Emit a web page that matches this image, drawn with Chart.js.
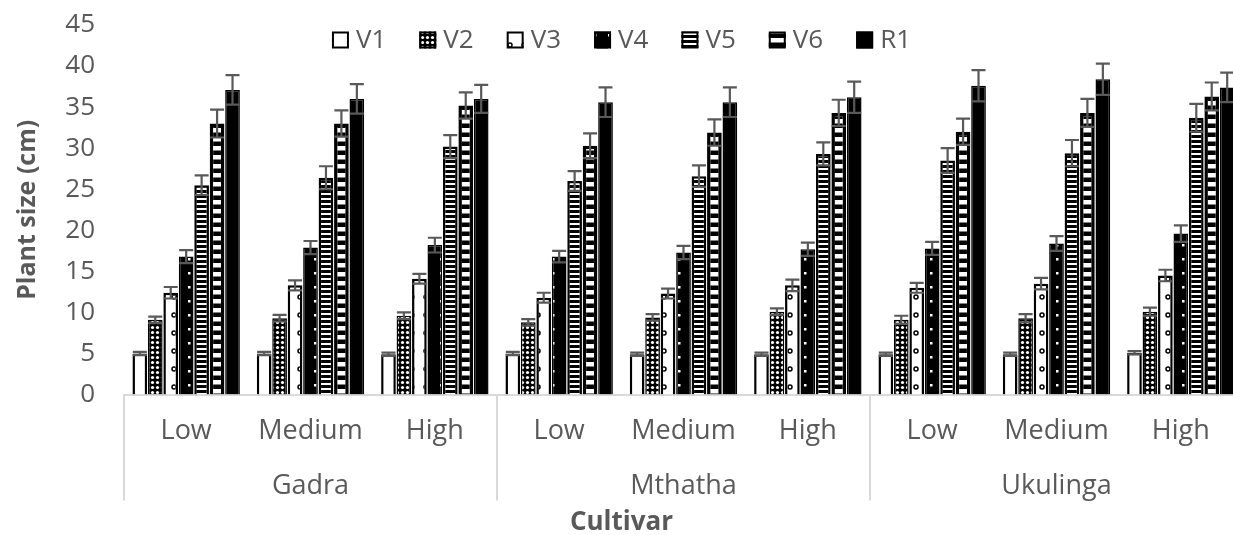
<html>
<head>
<title>Plant size by cultivar</title>
<style>
html, body { margin: 0; padding: 0; overflow: hidden; background: #fff; }
#wrap { position: relative; width: 1243px; height: 535px; }
</style>
</head>
<body>
<div id="wrap"><canvas id="chart"></canvas></div>
<script src="https://cdn.jsdelivr.net/npm/chart.js@4/dist/chart.umd.min.js"></script>
<script>
const cultivars = ["Gadra", "Mthatha", "Ukulinga"];
const levels = ["Low", "Medium", "High"];
const stages = ["V1", "V2", "V3", "V4", "V5", "V6", "R1"];

// plant size (cm), one value per cultivar x level
const v1 = [5.0, 5.0, 4.9, 5.0, 4.9, 4.9, 4.9, 4.9, 5.1];
const v2 = [9.1, 9.3, 9.6, 8.8, 9.4, 10.1, 9.1, 9.3, 10.1];
const v3 = [12.4, 13.3, 14.1, 11.8, 12.3, 13.3, 13.0, 13.5, 14.5];
const v4 = [16.8, 17.9, 18.2, 16.8, 17.3, 17.7, 17.8, 18.4, 19.6];
const v5 = [25.5, 26.4, 30.2, 26.0, 26.6, 29.3, 28.5, 29.4, 33.7];
const v6 = [33.0, 33.0, 35.2, 30.3, 31.9, 34.3, 32.0, 34.3, 36.3];
const r1 = [37.1, 36.0, 36.0, 35.6, 35.6, 36.2, 37.6, 38.4, 37.4];

// error bar half-lengths
const v1Err = [0.2, 0.2, 0.2, 0.2, 0.2, 0.2, 0.2, 0.2, 0.2];
const v2Err = [0.4, 0.4, 0.4, 0.4, 0.4, 0.4, 0.5, 0.5, 0.5];
const v3Err = [0.7, 0.6, 0.6, 0.6, 0.6, 0.7, 0.6, 0.7, 0.7];
const v4Err = [0.8, 0.8, 0.9, 0.7, 0.8, 0.8, 0.8, 0.9, 1.0];
const v5Err = [1.2, 1.4, 1.4, 1.2, 1.3, 1.4, 1.5, 1.6, 1.7];
const v6Err = [1.7, 1.6, 1.6, 1.5, 1.6, 1.6, 1.6, 1.7, 1.7];
const r1Err = [1.8, 1.8, 1.7, 1.8, 1.8, 1.9, 1.9, 1.9, 1.8];

const yTicks = { min: 0, max: 45, step: 5 };
const xTitle = "Cultivar";
const yTitle = "Plant size (cm)";

const values = [v1, v2, v3, v4, v5, v6, r1];
const errors = [v1Err, v2Err, v3Err, v4Err, v5Err, v6Err, r1Err];

const labels = [];
cultivars.forEach(() => levels.forEach(l => labels.push(l)));

const grey = "#595959";
const font = "'Open Sans', 'Noto Sans', sans-serif";

function tile(w, h, draw) {
	const c = document.createElement("canvas");
	c.width = w; c.height = h;
	const g = c.getContext("2d");
	draw(g);
	return g.createPattern(c, "repeat");
}

const fills = [
	"#ffffff",
	tile(5, 5, g => {
		g.fillStyle = "#000"; g.fillRect(0, 0, 5, 5);
		g.fillStyle = "#fff"; g.beginPath(); g.arc(2.5, 2.5, 1.6, 0, Math.PI * 2); g.fill();
	}),
	tile(14, 18, g => {
		g.fillStyle = "#fff"; g.fillRect(0, 0, 14, 18);
		g.strokeStyle = "#000"; g.lineWidth = 1.5;
		g.beginPath(); g.arc(6, 9, 2, 0, Math.PI * 2); g.stroke();
	}),
	tile(14, 14, g => {
		g.fillStyle = "#000"; g.fillRect(0, 0, 14, 14);
		g.fillStyle = "#fff"; g.fillRect(6, 6, 2.5, 2.5);
	}),
	tile(4, 5, g => {
		g.fillStyle = "#000"; g.fillRect(0, 0, 4, 5);
		g.fillStyle = "#fff"; g.fillRect(0, 3, 4, 2);
	}),
	tile(4, 9, g => {
		g.fillStyle = "#000"; g.fillRect(0, 0, 4, 9);
		g.fillStyle = "#fff"; g.fillRect(0, 2, 4, 4.5);
	}),
	"#000000"
];
const borders = [2.5, 1.5, 2.5, 1.5, 2.5, 3.5, 1.5];

const datasets = stages.map((s, i) => ({
	label: s,
	data: values[i],
	backgroundColor: fills[i],
	borderColor: "#000",
	borderWidth: borders[i],
	borderSkipped: "bottom"
}));

const errorBars = {
	id: "errorBars",
	afterDatasetsDraw(chart) {
		const ctx = chart.ctx, y = chart.scales.y;
		ctx.save();
		ctx.strokeStyle = grey;
		ctx.lineWidth = 2.2;
		chart.data.datasets.forEach((ds, i) => {
			chart.getDatasetMeta(i).data.forEach((bar, j) => {
				const v = ds.data[j], e = errors[i][j];
				const top = y.getPixelForValue(v + e), bot = y.getPixelForValue(v - e);
				const half = 7;
				ctx.beginPath();
				ctx.moveTo(bar.x, top); ctx.lineTo(bar.x, bot);
				ctx.moveTo(bar.x - half, top); ctx.lineTo(bar.x + half, top);
				ctx.moveTo(bar.x - half, bot); ctx.lineTo(bar.x + half, bot);
				ctx.stroke();
			});
		});
		ctx.restore();
	}
};

// legend drawn inside the plot, centred on the whole canvas (Excel style)
const topLegend = {
	id: "topLegend",
	afterDraw(chart) {
		const ctx = chart.ctx;
		const box = 17, gap = 7, space = 33, cy = 40;
		ctx.save();
		ctx.font = "26px " + font;
		ctx.textBaseline = "middle";
		const items = chart.data.datasets.map(ds => ({ ds: ds, w: ctx.measureText(ds.label).width }));
		const total = items.reduce((s, it) => s + box + gap + it.w, 0) + space * (items.length - 1);
		let x = (chart.width - total) / 2;
		items.forEach(it => {
			ctx.fillStyle = it.ds.backgroundColor;
			ctx.fillRect(x, cy - box / 2, box, box);
			ctx.strokeStyle = "#000";
			ctx.lineWidth = 2;
			ctx.strokeRect(x + 1, cy - box / 2 + 1, box - 2, box - 2);
			ctx.fillStyle = grey;
			ctx.fillText(it.ds.label, x + box + gap, cy + 1);
			x += box + gap + it.w + space;
		});
		ctx.restore();
	}
};

const groupAxis = {
	id: "groupAxis",
	afterDraw(chart) {
		const ctx = chart.ctx, x = chart.scales.x, area = chart.chartArea;
		const step = x.getPixelForValue(1) - x.getPixelForValue(0);
		ctx.save();
		ctx.strokeStyle = "#d9d9d9";
		ctx.lineWidth = 2;
		ctx.fillStyle = grey;
		ctx.font = "27px " + font;
		ctx.textAlign = "center";
		ctx.textBaseline = "middle";
		cultivars.forEach((c, g) => {
			const first = g * levels.length, last = first + levels.length - 1;
			const left = x.getPixelForValue(first) - step / 2;
			ctx.beginPath();
			ctx.moveTo(left, area.bottom);
			ctx.lineTo(left, area.bottom + 106);
			ctx.stroke();
			const mid = (x.getPixelForValue(first) + x.getPixelForValue(last)) / 2;
			ctx.fillText(c, mid, area.bottom + 92);
		});
		ctx.font = "bold 26px " + font;
		ctx.fillText(xTitle, chart.width / 2, area.bottom + 128);
		ctx.restore();
	}
};

new Chart(document.getElementById("chart"), {
	type: "bar",
	data: { labels: labels, datasets: datasets },
	plugins: [errorBars, topLegend, groupAxis],
	options: {
		responsive: true,
		maintainAspectRatio: false,
		animation: false,
		layout: { padding: { top: 0, left: 13, right: 0, bottom: 66 } },
		datasets: { bar: { barPercentage: 0.95, categoryPercentage: 0.87 } },
		plugins: {
			tooltip: { enabled: false },
			legend: { display: false }
		},
		scales: {
			x: {
				grid: { display: false, drawTicks: false },
				border: { display: true, color: "#d9d9d9", width: 2 },
				ticks: { color: grey, padding: 21, maxRotation: 0, font: { family: font, size: 27 } }
			},
			y: {
				min: yTicks.min,
				max: yTicks.max,
				afterFit(scale) { scale.width = 111; scale.paddingTop = 25; },
				grid: { display: false, drawTicks: false },
				border: { display: false },
				ticks: { stepSize: yTicks.step, color: grey, padding: 29, font: { family: font, size: 26 } },
				title: {
					display: true,
					text: yTitle,
					color: grey,
					padding: { top: 0, bottom: 0 },
					font: { family: font, size: 25, weight: "bold" }
				}
			}
		}
	}
});
</script>
</body>
</html>
